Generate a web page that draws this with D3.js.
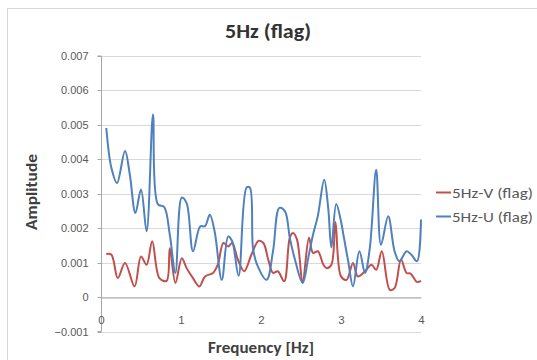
<!DOCTYPE html>
<html>
<head>
<meta charset="utf-8">
<script src="https://cdn.jsdelivr.net/npm/d3@7"></script>
<style>
  body { margin: 0; background: #fff; }
  svg { display: block; font-family: Calibri, Carlito, Lato, sans-serif; }
</style>
</head>
<body>
<div id="chart"></div>
<script>
// frequency [Hz] and amplitude for the V component
const vFreq = [0.066, 0.13, 0.21, 0.30, 0.42, 0.50, 0.57, 0.64, 0.73, 0.82, 0.86, 0.93, 1.01, 1.07, 1.15, 1.23, 1.30, 1.40, 1.46, 1.53, 1.59, 1.64, 1.71, 1.79, 1.88, 1.97, 2.03, 2.09, 2.15, 2.21, 2.29, 2.36, 2.40, 2.45, 2.52, 2.60, 2.65, 2.71, 2.78, 2.82, 2.88, 2.93, 3.00, 3.07, 3.15, 3.21, 3.30, 3.38, 3.44, 3.51, 3.61, 3.67, 3.75, 3.82, 3.87, 3.95, 4.00];
const vAmp = [0.00125, 0.00123, 0.00055, 0.00099, 0.00031, 0.00118, 0.00094, 0.00162, 0.00055, 0.00047, 0.00142, 0.00041, 0.00113, 0.00084, 0.00055, 0.00031, 0.00060, 0.00070, 0.00094, 0.00157, 0.00147, 0.00157, 0.00109, 0.00075, 0.00123, 0.00163, 0.00157, 0.00109, 0.00070, 0.00075, 0.00046, 0.00172, 0.00186, 0.00167, 0.00046, 0.00172, 0.00128, 0.00133, 0.00094, 0.00084, 0.00094, 0.00218, 0.00060, 0.00050, 0.00099, 0.00060, 0.00075, 0.00094, 0.00079, 0.00133, 0.00021, 0.00026, 0.00109, 0.00070, 0.00068, 0.00044, 0.00047];

// frequency [Hz] and amplitude for the U component
const uFreq = [0.066, 0.13, 0.20, 0.30, 0.36, 0.43, 0.50, 0.57, 0.65, 0.71, 0.79, 0.86, 0.93, 1.01, 1.07, 1.15, 1.24, 1.30, 1.36, 1.42, 1.51, 1.59, 1.64, 1.72, 1.82, 1.86, 1.90, 1.95, 2.07, 2.15, 2.23, 2.30, 2.36, 2.42, 2.52, 2.59, 2.65, 2.71, 2.79, 2.84, 2.88, 2.94, 3.00, 3.03, 3.09, 3.15, 3.23, 3.30, 3.36, 3.44, 3.50, 3.59, 3.67, 3.73, 3.82, 3.88, 3.95, 4.00];
const uAmp = [0.00491, 0.00375, 0.00331, 0.00424, 0.00356, 0.00244, 0.00312, 0.00191, 0.00530, 0.00270, 0.00261, 0.00181, 0.00070, 0.00289, 0.00273, 0.00133, 0.00205, 0.00206, 0.00239, 0.00191, 0.00050, 0.00176, 0.00162, 0.00062, 0.00318, 0.00318, 0.00142, 0.00095, 0.00050, 0.00133, 0.00259, 0.00249, 0.00172, 0.00113, 0.00041, 0.00113, 0.00181, 0.00235, 0.00341, 0.00259, 0.00144, 0.00270, 0.00220, 0.00181, 0.00104, 0.00031, 0.00133, 0.00070, 0.00142, 0.00370, 0.00152, 0.00235, 0.00133, 0.00104, 0.00133, 0.00123, 0.00104, 0.00225];

const yTicks = [-0.001, 0, 0.001, 0.002, 0.003, 0.004, 0.005, 0.006, 0.007];
const xTicks = [0, 1, 2, 3, 4];

const series = [
  { name: "5Hz-V (flag)", color: "#C0504D", freq: vFreq, amp: vAmp },
  { name: "5Hz-U (flag)", color: "#4F81BD", freq: uFreq, amp: uAmp }
];

const width = 537, height = 360;
const plotLeft = 101, plotRight = 421, plotTop = 56, plotBottom = 331.5;

const svg = d3.select("#chart").append("svg")
  .attr("width", width)
  .attr("height", height);

// chart area frame (runs off the right and bottom edges)
svg.append("rect")
  .attr("x", 7.5).attr("y", 8.5)
  .attr("width", 600).attr("height", 400)
  .attr("fill", "#fff")
  .attr("stroke", "#d9d9d9");

const x = d3.scaleLinear().domain([0, 4]).range([plotLeft, plotRight]);
const y = d3.scaleLinear().domain([-0.001, 0.007]).range([plotBottom, plotTop]);

// gridlines
svg.append("g")
  .selectAll("line")
  .data(yTicks)
  .join("line")
  .attr("x1", plotLeft).attr("x2", plotRight)
  .attr("y1", d => Math.round(y(d)) + 0.5)
  .attr("y2", d => Math.round(y(d)) + 0.5)
  .attr("stroke", "#d9d9d9")
  .attr("stroke-width", 1);

// y axis
const yAxis = svg.append("g")
  .attr("transform", `translate(${plotLeft + 0.5},0)`)
  .call(d3.axisLeft(y).tickValues(yTicks).tickSize(4).tickPadding(9)
    .tickFormat(d => d === 0 ? "0" : d3.format(".3f")(d)));
yAxis.select(".domain").attr("stroke", "#a6a6a6").attr("d", `M-4,${plotTop}H0V${plotBottom}H-4`);
yAxis.selectAll(".tick line").attr("stroke", "#a6a6a6");
yAxis.selectAll("text").attr("fill", "#595959").style("font-size", "11px");
yAxis.selectAll(".tick").attr("transform", d => `translate(0,${Math.round(y(d)) + 0.5})`);

// x axis crossing at zero
const xAxis = svg.append("g")
  .attr("transform", `translate(0,${Math.round(y(0)) + 0.5})`)
  .call(d3.axisBottom(x).tickValues(xTicks).tickSize(0).tickPadding(18)
    .tickFormat(d3.format("d")));
xAxis.select(".domain").attr("stroke", "#a6a6a6");
xAxis.selectAll("text").attr("fill", "#595959").style("font-size", "11.5px");

// lines
const line = d3.line()
  .x(d => x(d[0]))
  .y(d => y(d[1]))
  .curve(d3.curveCatmullRom.alpha(0.5));

svg.append("g")
  .selectAll("path")
  .data(series)
  .join("path")
  .attr("d", s => line(s.freq.map((f, i) => [f, s.amp[i]])))
  .attr("fill", "none")
  .attr("stroke", s => s.color)
  .attr("stroke-width", 2)
  .attr("stroke-linejoin", "round");

// title
svg.append("text")
  .attr("x", 268).attr("y", 38)
  .attr("text-anchor", "middle")
  .attr("fill", "#333")
  .attr("textLength", 86)
  .attr("lengthAdjust", "spacingAndGlyphs")
  .style("font-size", "20px")
  .style("font-weight", "bold")
  .text("5Hz (flag)");

// axis titles
svg.append("text")
  .attr("x", 261).attr("y", 353)
  .attr("text-anchor", "middle")
  .attr("fill", "#404040")
  .attr("textLength", 106)
  .attr("lengthAdjust", "spacingAndGlyphs")
  .style("font-size", "15px")
  .style("font-weight", "bold")
  .text("Frequency [Hz]");

svg.append("text")
  .attr("transform", "translate(37,192) rotate(-90)")
  .attr("text-anchor", "middle")
  .attr("fill", "#404040")
  .attr("textLength", 76)
  .attr("lengthAdjust", "spacingAndGlyphs")
  .style("font-size", "15px")
  .style("font-weight", "bold")
  .text("Amplitude");

// legend
const legend = svg.append("g")
  .selectAll("g")
  .data(series)
  .join("g")
  .attr("transform", (d, i) => `translate(436,${192.5 + i * 24})`);

legend.append("line")
  .attr("x1", 0).attr("x2", 15)
  .attr("stroke", d => d.color)
  .attr("stroke-width", 2);

legend.append("text")
  .attr("x", 16).attr("dy", "0.35em")
  .attr("fill", "#595959")
  .attr("textLength", 81)
  .attr("lengthAdjust", "spacingAndGlyphs")
  .style("font-size", "14.5px")
  .text(d => d.name);
</script>
</body>
</html>
